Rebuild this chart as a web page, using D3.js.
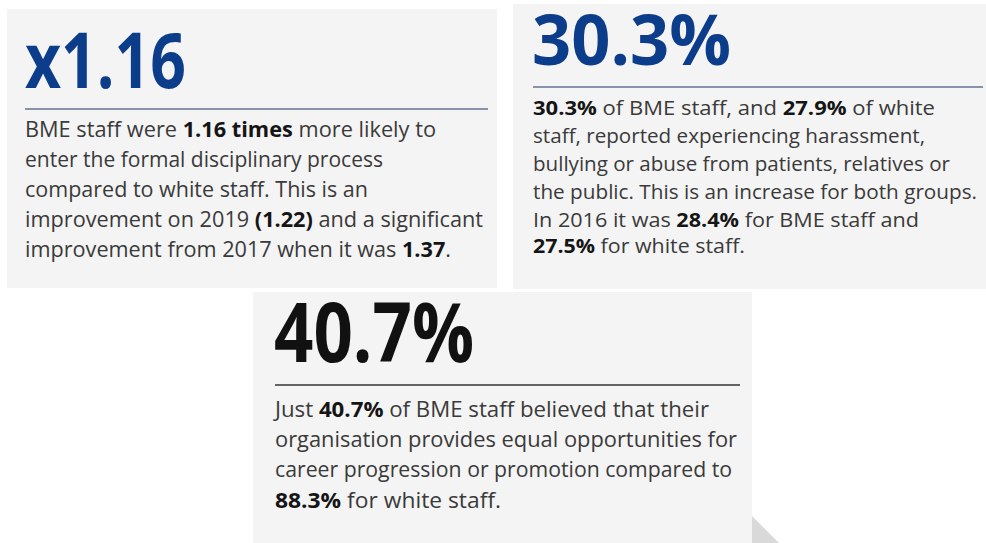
<!DOCTYPE html>
<html>
<head>
<meta charset="utf-8">
<script src="https://cdn.jsdelivr.net/npm/d3@7"></script>
<style>
  html, body { margin: 0; padding: 0; background: #ffffff; }
  svg { display: block; }
</style>
</head>
<body>
<div id="chart"></div>
<script>
// ---------- data ----------
const headlines = ["x1.16", "30.3%", "40.7%"];

// body lines: each line is a list of [text, bold]
const disciplinaryLines = [
  [["BME staff were ", false], ["1.16 times", true], [" more likely to", false]],
  [["enter the formal disciplinary process", false]],
  [["compared to white staff. This is an", false]],
  [["improvement on 2019 ", false], ["(1.22)", true], [" and a significant", false]],
  [["improvement from 2017 when it was ", false], ["1.37", true], [".", false]]
];
const harassmentLines = [
  [["30.3%", true], [" of BME staff, and ", false], ["27.9%", true], [" of white", false]],
  [["staff, reported experiencing harassment,", false]],
  [["bullying or abuse from patients, relatives or", false]],
  [["the public. This is an increase for both groups.", false]],
  [["In 2016 it was ", false], ["28.4%", true], [" for BME staff and", false]],
  [["27.5%", true], [" for white staff.", false]]
];
const progressionLines = [
  [["Just ", false], ["40.7%", true], [" of BME staff believed that their", false]],
  [["organisation provides equal opportunities for", false]],
  [["career progression or promotion compared to", false]],
  [["88.3%", true], [" for white staff.", false]]
];

// ---------- layout ----------
const W = 986, H = 543;
const panels = [
  { rect: [7, 9, 490, 279], head: headlines[0], headX: 25, headY: 88, headSize: 77, headW: 161, headColor: "#0c3d8b",
    rule: [25, 488, 109], ruleColor: "#8793aa", ruleW: 2,
    lines: disciplinaryLines, bx: 25, by: [137, 167, 197, 227, 257], bw: [411, 358, 343, 458, 426], bs: 21 },
  { rect: [513, 4, 473, 285], head: headlines[1], headX: 532, headY: 65, headSize: 70, headW: 199, headColor: "#0c3d8b",
    rule: [533, 983, 87], ruleColor: "#8793aa", ruleW: 2,
    lines: harassmentLines, bx: 533, by: [115, 143, 171, 199, 227, 253], bw: [402, 392, 417, 444, 386, 212], bs: 20 },
  { rect: [253, 292, 499, 251], head: headlines[2], headX: 274, headY: 362, headSize: 82, headW: 200, headColor: "#111111",
    rule: [275, 740, 385], ruleColor: "#333333", ruleW: 1.6,
    lines: progressionLines, bx: 275, by: [417, 447, 477, 508], bw: [434, 462, 457, 226], bs: 22 }
];

const svg = d3.select("#chart").append("svg")
  .attr("width", W).attr("height", H)
  .attr("viewBox", `0 0 ${W} ${H}`);

svg.append("rect").attr("width", W).attr("height", H).attr("fill", "#ffffff");

const g = svg.selectAll("g.panel").data(panels).join("g").attr("class", "panel");

g.append("rect")
  .attr("x", d => d.rect[0]).attr("y", d => d.rect[1])
  .attr("width", d => d.rect[2]).attr("height", d => d.rect[3])
  .attr("fill", "#f4f4f4");

g.append("text")
  .attr("x", d => d.headX).attr("y", d => d.headY)
  .attr("font-family", "'Open Sans', 'Noto Sans', sans-serif")
  .attr("font-weight", 700)
  .attr("font-size", d => d.headSize)
  .attr("fill", d => d.headColor)
  .attr("textLength", d => d.headW)
  .attr("lengthAdjust", "spacingAndGlyphs")
  .text(d => d.head);

g.append("line")
  .attr("x1", d => d.rule[0]).attr("x2", d => d.rule[1])
  .attr("y1", d => d.rule[2]).attr("y2", d => d.rule[2])
  .attr("stroke", d => d.ruleColor).attr("stroke-width", d => d.ruleW);

g.each(function(p) {
  const sel = d3.select(this);
  sel.selectAll("text.body").data(p.lines).join("text")
    .attr("class", "body")
    .attr("x", p.bx)
    .attr("y", (d, i) => p.by[i])
    .attr("font-family", "'Open Sans', 'Noto Sans', sans-serif")
    .attr("font-size", p.bs)
    .attr("fill", "#3a3a3a")
    .attr("textLength", (d, i) => p.bw[i])
    .attr("lengthAdjust", "spacingAndGlyphs")
    .selectAll("tspan").data(d => d).join("tspan")
      .attr("font-weight", s => s[1] ? 700 : 400)
      .attr("fill", s => s[1] ? "#151515" : "#3a3a3a")
      .text(s => s[0]);
});

// decorative folded-corner triangle at bottom right of third panel
svg.append("path")
  .attr("d", d3.line()([[752, 516], [779, 543], [752, 543]]) + "Z")
  .attr("fill", "#d9d9d9");
</script>
</body>
</html>
